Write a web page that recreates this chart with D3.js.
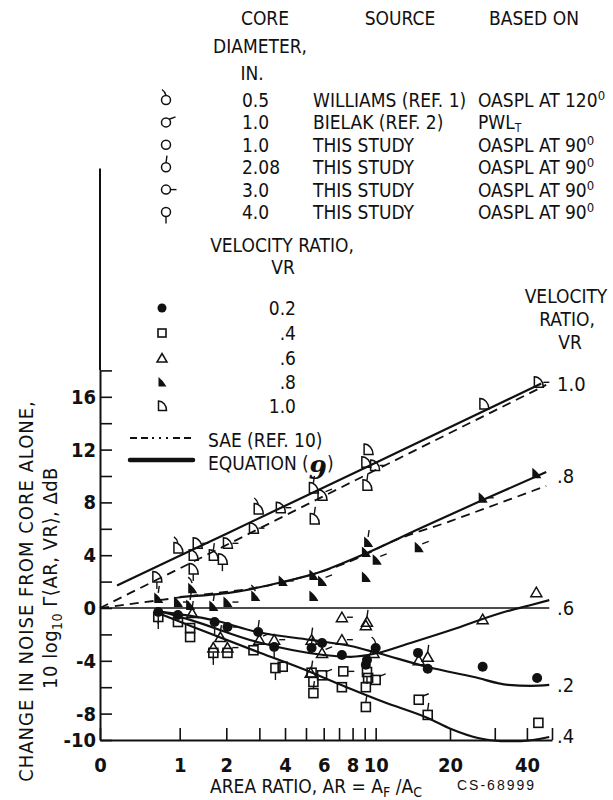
<!DOCTYPE html>
<html>
<head>
<meta charset="utf-8">
<script src="https://cdn.jsdelivr.net/npm/d3@7"></script>
<style>
  body { margin: 0; background: #fff; }
  svg { display: block; }
  text { font-family: "Liberation Sans Narrow", "DejaVu Sans Condensed", sans-serif; fill: #111; }
</style>
</head>
<body>
<svg id="chart" width="613" height="800"></svg>
<script>
// axis ticks
const xTicks = [0, 1, 2, 3, 4, 5, 6, 7, 8, 9, 10, 20, 30, 40, 50];
const xLabels = [0, 1, 2, 4, 6, 8, 10, 20, 40];
const yTicks = [-10, -8, -6, -4, -2, 0, 2, 4, 6, 8, 10, 12, 14, 16, 18];
const yLabels = [16, 12, 8, 4, 0, -4, -8, -10];
const yAxisTop = 33.3;

// core diameter keys: w = 0.5 Williams, b = 1.0 Bielak, t = 1.0 this study,
// d2 = 2.08, d3 = 3.0, d4 = 4.0   -> [AR, dB, core]
const vr02Points = [
  [0.66, -0.3, "d4"], [0.97, -0.53, "t"], [1.71, -1.06, "d4"], [2.03, -1.44, "d3"],
  [2.96, -1.82, "d2"], [3.55, -2.95, "d4"], [5.3, -3.03, "d2"], [5.9, -2.65, "t"],
  [7.2, -3.56, "t"], [9.1, -4.3, "t"], [9.2, -3.94, "t"], [10.0, -3.03, "w"],
  [14.9, -3.4, "t"], [16.3, -4.6, "t"], [26.9, -4.45, "t"], [43.8, -5.3, "t"]
];
const vr04Points = [
  [0.66, -0.68, "d4"], [0.97, -1.06, "t"], [1.19, -1.52, "t"], [1.19, -2.2, "t"],
  [1.68, -3.4, "d4"], [2.03, -3.4, "t"], [2.8, -3.2, "t"], [3.6, -4.55, "d4"],
  [3.9, -4.45, "t"], [5.3, -4.9, "d2"], [5.4, -5.6, "t"], [5.4, -6.45, "d2"],
  [5.9, -5.1, "b"], [7.3, -4.8, "d3"], [7.2, -6.0, "t"], [9.2, -4.85, "d4"],
  [9.3, -5.3, "t"], [9.1, -6.0, "t"], [10.0, -5.45, "b"], [9.1, -7.5, "d2"],
  [15.0, -6.95, "b"], [16.3, -8.1, "d2"], [44.3, -8.7, "t"]
];
const vr06Points = [
  [1.23, -0.38, "d2"], [1.85, -2.2, "d2"], [1.68, -3.0, "d4"], [2.03, -3.0, "d3"],
  [3.0, -2.4, "b"], [3.55, -2.4, "d3"], [5.3, -2.4, "d2"], [5.9, -3.4, "b"],
  [5.25, -4.9, "t"], [7.2, -0.7, "d3"], [7.2, -2.4, "d3"], [9.2, -1.05, "d2"],
  [9.1, -1.3, "t"], [9.8, -3.4, "t"], [15.0, -3.95, "t"], [16.3, -3.7, "d2"],
  [26.9, -0.85, "t"], [43.5, 1.2, "t"]
];
const vr08Points = [
  [0.66, 0.76, "d2"], [0.97, 0.45, "d3"], [1.23, 1.5, "w"], [1.19, 0.23, "d2"],
  [1.68, 0.15, "d2"], [2.03, 0.45, "d3"], [2.86, 0.9, "w"], [3.9, 2.05, "d3"],
  [5.4, 2.5, "t"], [5.9, 2.05, "b"], [5.4, 0.9, "t"], [9.3, 5.0, "d2"],
  [9.1, 4.25, "t"], [10.1, 3.65, "b"], [9.1, 2.35, "t"], [15.0, 4.6, "b"],
  [26.9, 8.35, "d3"], [43.5, 10.2, "t"]
];
const vr10Points = [
  [0.64, 2.35, "d4"], [0.97, 4.55, "w"], [1.25, 4.0, "t"], [1.33, 4.9, "d3"],
  [1.25, 2.95, "d4"], [1.68, 4.0, "d2"], [1.9, 3.7, "d4"], [2.03, 4.9, "d3"],
  [2.8, 6.05, "d3"], [2.96, 7.5, "w"], [3.8, 7.6, "d3"], [5.4, 9.1, "d2"],
  [5.9, 8.55, "b"], [5.45, 6.75, "d2"], [9.3, 12.0, "t"], [9.1, 11.05, "t"],
  [9.9, 10.8, "d3"], [9.2, 9.3, "d2"], [27.2, 15.45, "t"], [44.3, 17.1, "d3"]
];

// equation (9) curves and SAE curves, [AR, dB]
const eqVR10 = [[0.16, 1.7], [1, 3.95], [10, 11.0], [45.4, 17.0]];
const eqVR08 = [[1.0, 0.83], [2.2, 1.2], [3.9, 1.97], [5.6, 2.65], [9.2, 4.17], [15.3, 6.06], [26.9, 8.18], [47.5, 10.3]];
const eqVR06 = [[0.62, -0.15], [1.19, -0.9], [2.93, -2.58], [6.0, -3.56], [7.85, -3.7], [10.2, -3.41], [13.9, -2.65], [20.2, -1.67], [31.7, -0.38], [41.5, 0.23], [48.8, 0.6]];
const eqVR04 = [[0.62, -0.3], [1.25, -1.44], [3.04, -3.41], [4.72, -4.55], [7.33, -5.91], [10.8, -7.12], [16.3, -8.33], [20.2, -9.17], [25.8, -9.85], [31.7, -10.08], [38.0, -10.08], [48.8, -9.77]];
const eqVR02 = [[0.62, -0.23], [1.68, -0.91], [2.93, -1.82], [5.24, -2.42], [7.85, -2.88], [10.2, -3.41], [16.3, -4.47], [24.9, -5.23], [33.8, -5.83], [41.5, -5.9], [48.8, -5.83]];
const saeVR10 = [[0, 0], [1, 3.0], [10, 10.45], [47.5, 16.9]];
const saeVR08 = [[0, 0], [1.0, 0.8], [3.9, 1.95], [9.2, 4.1], [10.8, 4.75], [20.2, 6.6], [47.5, 9.25]];
const zeroLine = [[0, 0], [48.8, 0]];

const curveLabels = [["1.0", 17.0], [".8", 10.0], [".6", 0], [".2", -5.8], [".4", -9.7]];

const ink = "#111";
const svg = d3.select("#chart");

const x = d3.scaleSymlog().constant(1).domain([0, 50]).range([100, 552]);
const y = d3.scaleLinear().domain([-10, 18]).range([740, 370.4]);

// axes
const gx = svg.append("g")
  .attr("transform", "translate(0," + y(-10) + ")")
  .call(d3.axisBottom(x).tickValues(xTicks).tickSize(-12).tickSizeOuter(0).tickPadding(18)
    .tickFormat(d => xLabels.includes(d) ? d : ""));
const gy = svg.append("g")
  .attr("transform", "translate(" + x(0) + ",0)")
  .call(d3.axisLeft(y).tickValues(yTicks).tickSize(-12).tickSizeOuter(0).tickPadding(4)
    .tickFormat(d => yLabels.includes(d) ? d : ""));
[gx, gy].forEach(g => {
  g.select(".domain").attr("stroke", ink).attr("stroke-width", 2);
  g.selectAll(".tick line").attr("stroke", ink).attr("stroke-width", 1.6);
  g.selectAll(".tick text").attr("fill", ink)
    .style("font-size", "20px").style("font-weight", "bold").style("font-family", null);
});
svg.append("line")
  .attr("x1", x(0)).attr("x2", x(0))
  .attr("y1", y(18)).attr("y2", y(yAxisTop))
  .attr("stroke", ink).attr("stroke-width", 2);

// curves
const line = d3.line().x(d => x(d[0])).y(d => y(d[1])).curve(d3.curveMonotoneX);
svg.append("path").attr("d", line(zeroLine)).attr("fill", "none").attr("stroke", ink).attr("stroke-width", 1.3);
[saeVR10, saeVR08].forEach(c => {
  svg.append("path").attr("d", line(c)).attr("fill", "none")
    .attr("stroke", ink).attr("stroke-width", 1.8).attr("stroke-dasharray", "9,6");
});
[eqVR10, eqVR08, eqVR06, eqVR04, eqVR02].forEach(c => {
  svg.append("path").attr("d", line(c)).attr("fill", "none")
    .attr("stroke", ink).attr("stroke-width", 2.2);
});

// markers
function drawShape(g, vr, r) {
  if (vr === 0.2) {
    g.append("circle").attr("r", r).attr("fill", ink);
  } else if (vr === 0.4) {
    g.append("rect").attr("x", -r + 0.5).attr("y", -r + 0.5).attr("width", 2 * r - 1).attr("height", 2 * r - 1)
      .attr("fill", "none").attr("stroke", ink).attr("stroke-width", 1.6);
  } else if (vr === 0.6) {
    g.append("path").attr("d", `M0,${-r}L${r + 0.5},${r - 0.5}L${-r - 0.5},${r - 0.5}Z`)
      .attr("fill", "none").attr("stroke", ink).attr("stroke-width", 1.5);
  } else if (vr === 0.8) {
    g.append("path").attr("d", `M${-r + 1},${-r - 0.5}Q${r * 0.4},${-r * 0.2} ${r},${r}H${-r + 1}Z`)
      .attr("fill", ink);
  } else {
    g.append("path").attr("d", `M${-r + 1},${-r - 0.5}A${2 * r - 1},${2 * r + 0.5} 0 0 1 ${r},${r}H${-r + 1}Z`)
      .attr("fill", "none").attr("stroke", ink).attr("stroke-width", 1.5);
  }
}
function drawFlag(g, core, r) {
  const flags = {
    w: `M0,${-r}Q-1,${-r - 4} -4,${-r - 6}`,
    b: `M${r * 0.7},${-r * 0.7}L${r + 5},${-r - 1}`,
    d2: `M0,${-r}L1,${-r - 7}`,
    d3: `M${r},0L${r + 6},0`,
    d4: `M0,${r}L0,${r + 7}`
  };
  if (flags[core]) g.append("path").attr("d", flags[core]).attr("fill", "none")
    .attr("stroke", ink).attr("stroke-width", 1.4);
}
[[0.2, vr02Points], [0.4, vr04Points], [0.6, vr06Points], [0.8, vr08Points], [1.0, vr10Points]]
  .forEach(([vr, pts]) => {
    pts.forEach(p => {
      const g = svg.append("g").attr("transform", `translate(${x(p[0])},${y(p[1])})`);
      drawShape(g, vr, 5);
      drawFlag(g, p[2], 5);
    });
  });

// text helpers
function txt(xp, yp, s, size, anchor) {
  return svg.append("text").attr("x", xp).attr("y", yp)
    .attr("text-anchor", anchor || "start").style("font-size", (size || 19) + "px").text(s);
}

// core diameter legend
txt(265, 25, "CORE", 19, "middle");
txt(260, 53, "DIAMETER,", 19, "middle");
txt(252, 80, "IN.", 19, "middle");
txt(400, 25, "SOURCE", 19, "middle");
txt(534, 25, "BASED ON", 19, "middle");

const legendCores = ["w", "b", "t", "d2", "d3", "d4"];
const legendDiam = ["0.5", "1.0", "1.0", "2.08", "3.0", "4.0"];
const legendSource = ["WILLIAMS (REF. 1)", "BIELAK (REF. 2)", "THIS STUDY", "THIS STUDY", "THIS STUDY", "THIS STUDY"];
const legendBasis = ["120", "PWL", "90", "90", "90", "90"];
legendCores.forEach((c, i) => {
  const yc = 100 + i * 22.4;
  const g = svg.append("g").attr("transform", `translate(166,${yc})`);
  g.append("circle").attr("r", 4.5).attr("fill", "none").attr("stroke", ink).attr("stroke-width", 1.5);
  drawFlag(g, c, 4.5);
  txt(242, yc + 7, legendDiam[i]);
  txt(313, yc + 7, legendSource[i]);
  const t = txt(478, yc + 7, "");
  if (legendBasis[i] === "PWL") {
    t.text("PWL");
    t.append("tspan").attr("dy", 3).style("font-size", "12px").text("T");
  } else {
    t.text("OASPL AT " + legendBasis[i]);
    t.append("tspan").attr("dy", -7).style("font-size", "13px").text("0");
  }
});

// velocity ratio legend
txt(282, 252, "VELOCITY RATIO,", 19, "middle");
txt(283, 274, "VR", 19, "middle");
const legendVR = [0.2, 0.4, 0.6, 0.8, 1.0];
const legendVRText = ["0.2", ".4", ".6", ".8", "1.0"];
const legendVRy = [308, 333, 358, 382, 406];
legendVR.forEach((vr, i) => {
  const g = svg.append("g").attr("transform", `translate(162,${legendVRy[i]})`);
  drawShape(g, vr, 4.5);
  txt(296, legendVRy[i] + 7, legendVRText[i], 19, "end");
});

svg.append("line").attr("x1", 130).attr("x2", 195).attr("y1", 438).attr("y2", 438)
  .attr("stroke", ink).attr("stroke-width", 1.8).attr("stroke-dasharray", "7,4,7,4,2,5,2,5,2,5");
txt(208, 447, "SAE (REF. 10)");
svg.append("line").attr("x1", 130).attr("x2", 193).attr("y1", 460).attr("y2", 460)
  .attr("stroke", ink).attr("stroke-width", 4.5).attr("stroke-linecap", "round");
const eqText = txt(208, 470, "EQUATION (");
eqText.append("tspan").attr("dy", 9)
  .style("font-family", "DejaVu Serif").style("font-style", "italic").style("font-weight", "bold")
  .style("font-size", "26px").text("9");
eqText.append("tspan").attr("dy", -9).text(")");

// right side labels
txt(566, 303, "VELOCITY", 19, "middle");
txt(567, 326, "RATIO,", 19, "middle");
txt(570, 349, "VR", 19, "middle");
curveLabels.forEach(([s, v]) => txt(557, y(v) + 7, s, 20));

// axis titles
const xt = txt(316, 793, "AREA RATIO, AR = A", 19, "middle");
xt.append("tspan").attr("dy", 4).style("font-size", "14px").text("F");
xt.append("tspan").attr("dy", -4).text(" /A");
xt.append("tspan").attr("dy", 4).style("font-size", "14px").text("C");
svg.append("text").attr("x", 457).attr("y", 790)
  .style("font-family", "Liberation Sans").style("font-size", "14px").style("letter-spacing", "2px")
  .text("CS-68999");

svg.append("text").attr("transform", "translate(33,591) rotate(-90)")
  .attr("text-anchor", "middle").style("font-size", "20px").style("letter-spacing", "1px")
  .text("CHANGE IN NOISE FROM CORE ALONE,");
const yt2 = svg.append("text").attr("transform", "translate(57,578) rotate(-90)")
  .attr("text-anchor", "middle").style("font-size", "20px").style("letter-spacing", "0.5px")
  .text("10 log");
yt2.append("tspan").attr("dy", 5).style("font-size", "14px").text("10");
yt2.append("tspan").attr("dy", -5).text(" \u0393\u27E8AR, VR\u27E9, \u0394dB");
</script>
</body>
</html>
